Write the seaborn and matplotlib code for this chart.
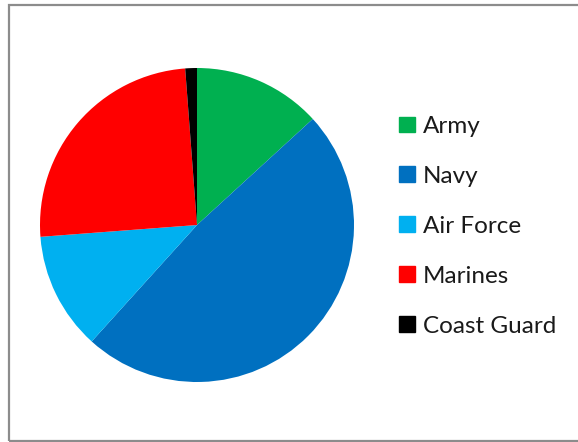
import matplotlib
matplotlib.use("Agg")
import matplotlib.pyplot as plt
import seaborn as sns
from matplotlib.patches import Patch, Rectangle

sns.set_theme(style="white")
plt.rcParams['font.family'] = ['Lato', 'DejaVu Sans']

branches = ["Army", "Navy", "Air Force", "Marines", "Coast Guard"]
shares = [13.2, 48.5, 12.1, 25.0, 1.2]
colors = ["#00B050", "#0070C0", "#00B0F0", "#FF0000", "#000000"]

W, H = 578, 442
fig = plt.figure(figsize=(W / 100, H / 100), dpi=100)
fig.patch.set_facecolor("white")

cx, cy, r = 197, 225, 157
ax = fig.add_axes([(cx - r) / W, (H - cy - r) / H, 2 * r / W, 2 * r / H])
ax.pie(shares, colors=colors, startangle=90, counterclock=False,
       wedgeprops=dict(linewidth=0))
ax.set_xlim(-1, 1)
ax.set_ylim(-1, 1)
ax.set_aspect("equal")
ax.axis("off")

handles = [Patch(facecolor=c, edgecolor=c, label=l) for c, l in zip(colors, branches)]
leg = fig.legend(handles=handles, loc="upper left", bbox_to_anchor=(399 / W, 1 - 116 / H),
                 frameon=False, fontsize=17.5, handlelength=0.64, handleheight=0.62,
                 handletextpad=0.33, labelspacing=1.19, borderaxespad=0, borderpad=0)
for t in leg.get_texts():
    t.set_color("#1a1a1a")

fig.add_artist(Rectangle((8.5 / W, 1 / H), 1.0, (H - 6) / H, transform=fig.transFigure,
                         fill=False, edgecolor="#8c8c8c", linewidth=1.6))

fig.savefig("out.png", dpi=100)
